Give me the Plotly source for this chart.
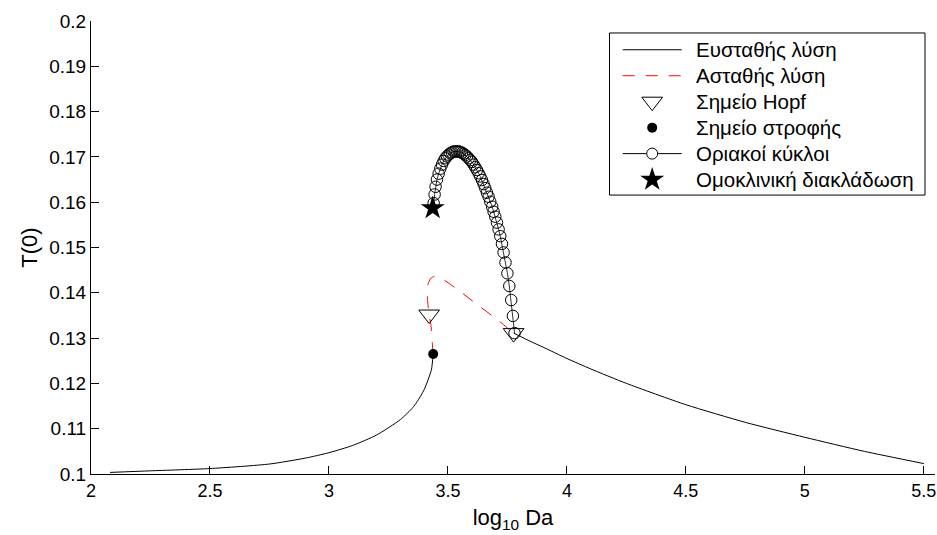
import plotly.graph_objects as go

# Stable steady-state branch, low-Da side (ends at the turning point)
stable_left_x = [2.08, 2.25, 2.5, 2.75, 2.9, 3.0, 3.1, 3.2, 3.3, 3.353, 3.371, 3.4, 3.4305, 3.438]
stable_left_y = [0.10035, 0.1007, 0.1012, 0.1022, 0.1035, 0.1047, 0.1063, 0.1086, 0.1120, 0.1147,
                 0.1160, 0.1186, 0.1230, 0.1265]

# Stable steady-state branch, high-Da side (starts at the second Hopf point)
stable_right_x = [3.776, 3.85, 3.9, 4.0, 4.1, 4.25, 4.5, 4.75, 5.0, 5.25, 5.5]
stable_right_y = [0.1311, 0.1292, 0.1280, 0.1255, 0.1232, 0.1200, 0.1153, 0.1114, 0.1081, 0.1050, 0.1023]

# Unstable steady-state branch
unstable_x = [3.438, 3.435, 3.429, 3.421, 3.415, 3.413, 3.417, 3.428, 3.442, 3.459, 3.476,
              3.531, 3.623, 3.707, 3.774]
unstable_y = [0.1265, 0.1285, 0.1327, 0.1351, 0.1380, 0.1402, 0.1420, 0.1432, 0.1436, 0.1436,
              0.1431, 0.1411, 0.1374, 0.1341, 0.1312]

# Hopf points
hopf_x = [3.421, 3.776]
hopf_y = [0.1352, 0.1311]

# Turning (fold) point
turn_x = [3.438]
turn_y = [0.1265]

# Limit-cycle branch (maximum T(0) along the periodic orbits)
cycle_x = [3.780, 3.773, 3.766, 3.758, 3.750, 3.742, 3.734, 3.727, 3.720, 3.713,
           3.706, 3.699, 3.692, 3.686, 3.678, 3.671, 3.664, 3.657, 3.650, 3.643,
           3.636, 3.629, 3.622, 3.615, 3.608, 3.601, 3.594, 3.587, 3.580, 3.573,
           3.566, 3.559, 3.552, 3.545, 3.538, 3.531, 3.524, 3.517, 3.510, 3.503,
           3.496, 3.489, 3.482, 3.475, 3.468, 3.461, 3.454, 3.448, 3.444, 3.440]
cycle_y = [0.1311, 0.1349, 0.1384, 0.1415, 0.1443, 0.1467, 0.1489, 0.1508, 0.1525, 0.1540,
           0.1555, 0.1568, 0.1579, 0.1590, 0.1601, 0.1612, 0.1621, 0.1631, 0.1640, 0.1649,
           0.1657, 0.1664, 0.1671, 0.1677, 0.1683, 0.1689, 0.1693, 0.1697, 0.1701, 0.1704,
           0.1707, 0.1709, 0.1711, 0.1712, 0.1712, 0.1712, 0.1712, 0.1710, 0.1708, 0.1705,
           0.1701, 0.1697, 0.1691, 0.1683, 0.1674, 0.1663, 0.1650, 0.1634, 0.1617, 0.1598]

# Homoclinic bifurcation
homo_x = [3.436]
homo_y = [0.1587]

x_ticks = [2, 2.5, 3, 3.5, 4, 4.5, 5, 5.5]
y_ticks = [0.1, 0.11, 0.12, 0.13, 0.14, 0.15, 0.16, 0.17, 0.18, 0.19, 0.2]

legend_labels = ["Ευσταθής λύση", "Ασταθής λύση", "Σημείο Hopf", "Σημείο στροφής",
                 "Οριακοί κύκλοι", "Ομοκλινική διακλάδωση"]

FONT = "Liberation Sans, Arial, Helvetica, sans-serif"
DASH = "12px,11px"

fig = go.Figure()

fig.add_trace(go.Scatter(x=stable_left_x, y=stable_left_y, mode="lines",
                         line=dict(color="black", width=1, shape="spline", smoothing=0.6)))
fig.add_trace(go.Scatter(x=stable_right_x, y=stable_right_y, mode="lines",
                         line=dict(color="black", width=1, shape="spline", smoothing=0.6)))
fig.add_trace(go.Scatter(x=unstable_x, y=unstable_y, mode="lines",
                         line=dict(color="red", width=1, dash=DASH, shape="spline", smoothing=0.6)))
fig.add_trace(go.Scatter(x=cycle_x, y=cycle_y, mode="lines+markers",
                         line=dict(color="black", width=0.8),
                         marker=dict(symbol="circle-open", size=11.5, color="black",
                                     line=dict(width=1, color="black"))))
fig.add_trace(go.Scatter(x=hopf_x, y=hopf_y, mode="markers",
                         marker=dict(symbol="triangle-down-open", size=18, color="black",
                                     line=dict(width=1, color="black"))))
fig.add_trace(go.Scatter(x=turn_x, y=turn_y, mode="markers",
                         marker=dict(symbol="circle", size=10, color="black")))
fig.add_trace(go.Scatter(x=homo_x, y=homo_y, mode="markers",
                         marker=dict(symbol="star", size=18, color="black")))

# Legend drawn on an overlay axis measured in pixels of the plot area
L, R, T, B = 91, 935, 20.7, 474.3
box = dict(x0=609.5, x1=925, y0=32.7, y1=195)
row_y = [49.5 + 26 * i for i in range(6)]
sx0, sx1, sxm, tx = 622.7, 681.7, 652.2, 694

fig.add_shape(type="rect", xref="x2", yref="y2", x0=box["x0"], x1=box["x1"],
              y0=box["y0"], y1=box["y1"], line=dict(color="black", width=1),
              fillcolor="white", layer="below")
fig.add_shape(type="line", xref="x2", yref="y2", x0=sx0, x1=sx1, y0=row_y[0], y1=row_y[0],
              line=dict(color="black", width=1), layer="below")
fig.add_shape(type="line", xref="x2", yref="y2", x0=sx0, x1=sx1, y0=row_y[1], y1=row_y[1],
              line=dict(color="red", width=1, dash=DASH), layer="below")
fig.add_shape(type="line", xref="x2", yref="y2", x0=sx0, x1=sx1, y0=row_y[4], y1=row_y[4],
              line=dict(color="black", width=1), layer="below")

fig.add_trace(go.Scatter(x=[sxm], y=[row_y[2]], xaxis="x2", yaxis="y2", mode="markers",
                         marker=dict(symbol="triangle-down-open", size=18, color="black",
                                     line=dict(width=1, color="black"))))
fig.add_trace(go.Scatter(x=[sxm], y=[row_y[3]], xaxis="x2", yaxis="y2", mode="markers",
                         marker=dict(symbol="circle", size=10, color="black")))
fig.add_trace(go.Scatter(x=[sxm], y=[row_y[4]], xaxis="x2", yaxis="y2", mode="markers",
                         marker=dict(symbol="circle", size=11, color="white",
                                     line=dict(width=1, color="black"))))
fig.add_trace(go.Scatter(x=[sxm], y=[row_y[5]], xaxis="x2", yaxis="y2", mode="markers",
                         marker=dict(symbol="star", size=18, color="black")))

for lab, yy in zip(legend_labels, row_y):
    fig.add_annotation(x=tx, y=yy, xref="x2", yref="y2", text=lab, showarrow=False,
                       xanchor="left", yanchor="middle", font=dict(size=20.5, color="black", family=FONT))

fig.update_layout(
    width=937, height=535,
    margin=dict(l=L, r=937 - R, t=T, b=535 - B),
    paper_bgcolor="white", plot_bgcolor="white",
    showlegend=False,
    font=dict(family=FONT, size=18, color="black"),
    xaxis=dict(range=[2, 5.547], tickvals=x_ticks, ticktext=[f"{v:g}" for v in x_ticks],
               ticks="inside", ticklen=8, tickcolor="black", tickwidth=1,
               showline=True, linecolor="black", linewidth=1, showgrid=False, zeroline=False,
               title=dict(text="log<sub>10</sub> Da", standoff=10),
               tickfont=dict(size=18)),
    yaxis=dict(range=[0.1, 0.2], tickvals=y_ticks, ticktext=[f"{v:g}" for v in y_ticks],
               ticks="inside", ticklen=8, tickcolor="black", tickwidth=1,
               showline=True, linecolor="black", linewidth=1, showgrid=False, zeroline=False,
               title=dict(text="T(0)", standoff=5),
               tickfont=dict(size=19)),
    xaxis2=dict(overlaying="x", range=[L, R], visible=False, fixedrange=True),
    yaxis2=dict(overlaying="y", range=[B, T], visible=False, fixedrange=True),
)

fig.write_html("out.html")
